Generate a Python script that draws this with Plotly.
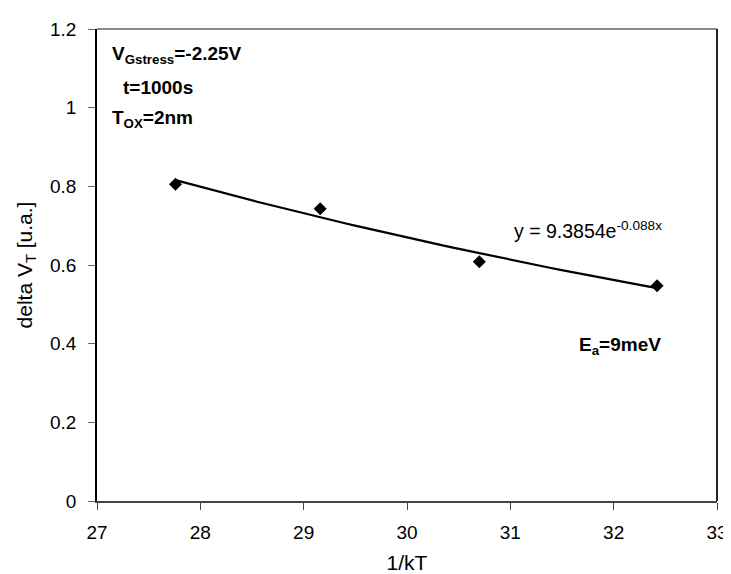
import numpy as np
import plotly.graph_objects as go

# Data
inv_kT = [27.76, 29.16, 30.70, 32.42]
delta_vt = [0.805, 0.743, 0.608, 0.547]

# Exponential trendline as printed on the chart: y = A * exp(B x)
trend_A = 9.3854
trend_B = -0.088

x_ticks = [27, 28, 29, 30, 31, 32, 33]
y_ticks = [0, 0.2, 0.4, 0.6, 0.8, 1.0, 1.2]
y_tick_text = ["0", "0.2", "0.4", "0.6", "0.8", "1", "1.2"]

FONT = "Liberation Sans, Arial, sans-serif"

tx = np.linspace(min(inv_kT), max(inv_kT), 60)
ty = trend_A * np.exp(trend_B * tx)

fig = go.Figure()
fig.add_trace(go.Scatter(x=tx, y=ty, mode="lines",
                         line=dict(color="black", width=2.2), hoverinfo="skip"))
fig.add_trace(go.Scatter(x=inv_kT, y=delta_vt, mode="markers",
                         marker=dict(symbol="diamond", size=10, color="black")))

annots = [
    dict(text="<b>V<sub>Gstress</sub>=-2.25V</b>", x=0.0206, y=0.945, xanchor="left"),
    dict(text="<b>t=1000s</b>", x=0.038, y=0.876, xanchor="left"),
    dict(text="<b>T<sub>OX</sub>=2nm</b>", x=0.0206, y=0.81, xanchor="left"),
]
for a in annots:
    fig.add_annotation(xref="paper", yref="paper", yanchor="middle", showarrow=False,
                       font=dict(family=FONT, size=19, color="black"), **a)

fig.add_annotation(x=31.02, y=0.69, xref="x", yref="y", xanchor="left", yanchor="middle",
                   text="y = 9.3854e<sup>-0.088x</sup>", showarrow=False,
                   font=dict(family=FONT, size=19.5, color="black"))
fig.add_annotation(x=32.06, y=0.395, xref="x", yref="y", xanchor="center", yanchor="middle",
                   text="<b>E<sub>a</sub>=9meV</b>", showarrow=False,
                   font=dict(family=FONT, size=19, color="black"))

fig.update_layout(
    width=731, height=574,
    margin=dict(l=89, r=11, t=16, b=78),
    paper_bgcolor="white", plot_bgcolor="white",
    showlegend=False,
    font=dict(family=FONT, size=19, color="black"),
    shapes=[
        dict(type="line", xref="paper", yref="paper", x0=0, y0=1, x1=1, y1=1,
             line=dict(color="#888888", width=2), layer="above"),
        dict(type="line", xref="paper", yref="paper", x0=1, y0=0, x1=1, y1=1,
             line=dict(color="#222222", width=2), layer="above"),
    ],
)
fig.update_xaxes(range=[27, 33], tickvals=x_ticks, ticks="outside", ticklen=7,
                 tickcolor="#444", showgrid=False, zeroline=False,
                 showline=True, linecolor="#444", linewidth=2,
                 ticklabelstandoff=6,
                 title=dict(text="1/kT", font=dict(family=FONT, size=21), standoff=14),
                 tickfont=dict(family=FONT, size=19))
fig.update_yaxes(range=[0, 1.2], tickvals=y_ticks, ticktext=y_tick_text, ticks="outside",
                 ticklen=7, tickcolor="#666", showgrid=False, zeroline=False,
                 showline=True, linecolor="black", linewidth=1.5,
                 ticklabelstandoff=8,
                 title=dict(text="delta V<sub>T</sub> [u.a.]", font=dict(family=FONT, size=21), standoff=12),
                 tickfont=dict(family=FONT, size=19))

fig.write_html("out.html")
